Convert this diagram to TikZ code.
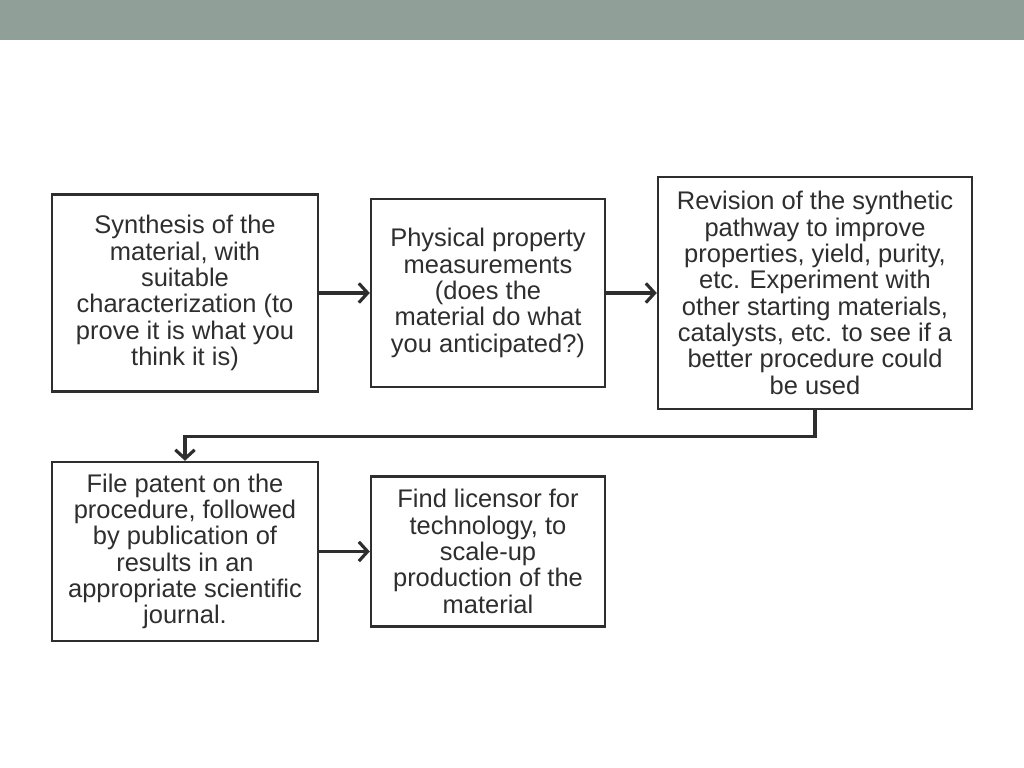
\documentclass[tikz,border=0pt]{standalone}
\usepackage{fontspec}
\setmainfont{Liberation Sans}
\usetikzlibrary{arrows.meta}
\definecolor{band}{HTML}{909F97}
\definecolor{ink}{HTML}{2E2E2E}
\begin{document}
\begin{tikzpicture}

      \tikzset{stepbox/.style={draw=ink, line width=1.4pt, align=center, inner sep=0pt, text=ink,
                font=\fontsize{14.5}{15}\selectfont},
               arr/.style={draw=ink, line width=1.8pt, -{Straight Barb[length=5pt, width=11pt]}}}
      \useasboundingbox (0,0) rectangle (20.48,15.36);
% Band
	\fill[band] (0,14.56) rectangle (20.48,15.36);
% Boxes
	%Top row
      	\node[stepbox, minimum width=5.32cm, minimum height=3.94cm] (b1) at (3.70,9.50)
      	  {Synthesis of the\\material, with\\suitable\\characterization (to\\prove it is what you\\think it is)};
      	\node[stepbox, minimum width=4.68cm, minimum height=3.76cm] (b2) at (9.76,9.50)
      	  {Physical property\\measurements\\(does the\\material do what\\you anticipated?)};
    	\node[stepbox, minimum width=6.28cm, minimum height=4.64cm] (b3) at (16.30,9.50)
    	  {Revision of the synthetic\\pathway to improve\\properties, yield, purity,\\etc. Experiment with\\other starting materials,\\catalysts, etc. to see if a\\better procedure could\\be used};
	%Bottom row
  	    \node[stepbox, minimum width=5.32cm, minimum height=3.58cm] (b4) at (3.70,4.33)
  	      {File patent on the\\procedure, followed\\by publication of\\results in an\\appropriate scientific\\journal.};
  	    \node[stepbox, minimum width=4.68cm, minimum height=3.00cm] (b5) at (9.76,4.33)
  	      {Find licensor for\\technology, to\\scale-up\\production of the\\material};
%Arrows
		\path[arr] (b1.east) -- (b2.west);
		\path[arr] (b2.east) -- (b3.west);
		\path[arr] (b3.south) -- ++(0,-0.52) -| (b4.north);
		\path[arr] (b4.east) -- (b5.west);

	\end{tikzpicture}
\end{document}
